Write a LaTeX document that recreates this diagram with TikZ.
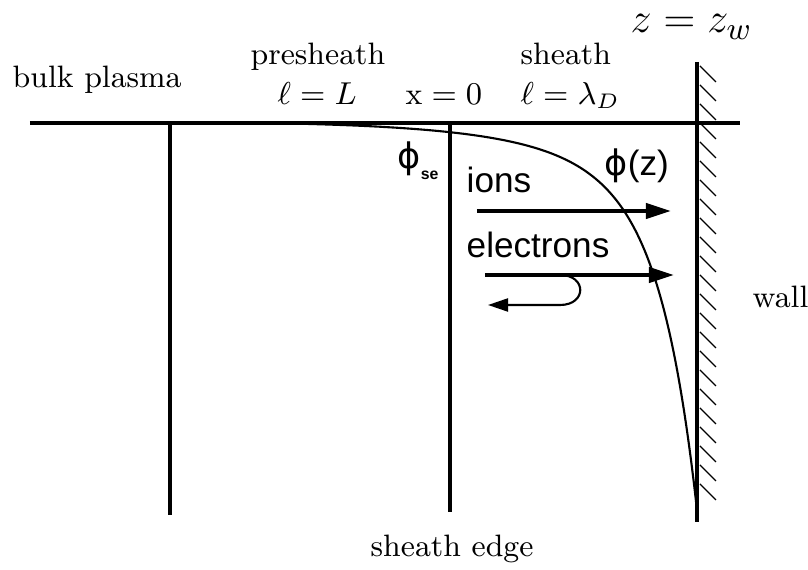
\documentclass[tikz,border=0pt]{standalone}
\usepackage{amsmath,amssymb}
\usepackage{fontspec}
\newfontfamily\sansf{Liberation Sans}
\newfontfamily\phif{DejaVu Sans}
\usepackage{tikz}
\usetikzlibrary{arrows.meta, positioning, calc}

\begin{document}
\begin{tikzpicture}[x=0.01cm, y=-0.01cm, font=\fontsize{8.8}{10.5}\selectfont,
    lbl/.style={anchor=base west, inner sep=0pt},
    sflbl/.style={anchor=base west, inner sep=0pt, font=\sansf\fontsize{10}{12}\selectfont},
    axisline/.style={line width=0.9pt},
    flow/.style={line width=1.1pt, -{Triangle[length=0.25cm, width=0.15cm]}}]
  \useasboundingbox (0,0) rectangle (808,570);
  % lines
  \draw[axisline] (30,123) -- (740,123);
  \draw[axisline] (170,123) -- (170,515);
  \draw[axisline] (450,123) -- (450,512);
  \draw[line width=1.4pt] (697,62) -- (697,522);
  \foreach \y in {66,85,...,500}
    \draw[line width=0.4pt] (700,\y) -- (716,\y+16);
  % potential
  \draw[line width=0.6pt] plot[domain=280:697, samples=150, smooth]
    (\x, {121 + 281*exp(-(697-\x)/35) + 108*exp(-(697-\x)/108)});
  % labels
  \node[lbl] (bulk) at (12,88) {bulk plasma};
  \node[lbl] (pre) at (250,65) {presheath};
  \node[lbl] (preL) at (277,105) {$\ell = L$};
  \node[lbl] (xzero) at (405,105) {$\mathrm{x} = 0$};
  \node[lbl] (sh) at (520,65) {sheath};
  \node[lbl] (shL) at (520,105) {$\ell = \lambda_D$};
  \node[lbl, font=\fontsize{13}{15}\selectfont] (zw) at (630,33) {$z = z_w$};
  \node[lbl] (wall) at (752,308) {wall};
  \node[lbl] (edge) at (370,557) {sheath edge};
  \node[sflbl] (phise) at (397,169) {{\phif ϕ}\raisebox{-3pt}{\bfseries\fontsize{4.5}{5}\selectfont se}};
  \node[sflbl] (phiz) at (604,176) {{\phif ϕ}(z)};
  \node[sflbl] (ions) at (466,193) {ions};
  \node[sflbl] (elec) at (466,258) {electrons};
  % particle flows
  \coordinate (ionA) at (477,211);
  \coordinate (ionB) at (671,211);
  \coordinate (elA) at (485,275);
  \coordinate (elB) at (674,275);
  \coordinate (turn) at (560,275);
  \coordinate (back) at (488,305);
  \draw[flow] (ionA) -- (ionB);
  \draw[flow] (elA) -- (elB);
  \draw[line width=0.6pt, -{Triangle[length=0.2cm, width=0.13cm]}]
    (turn) .. controls (587,275) and (587,305) .. (560,305) -- (back);
\end{tikzpicture}
\end{document}
